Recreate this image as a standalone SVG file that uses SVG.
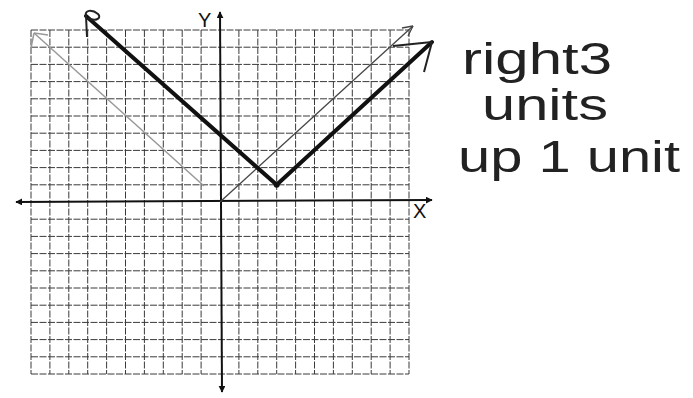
<svg xmlns="http://www.w3.org/2000/svg" width="693" height="398" viewBox="0 0 693 398">
<style>
.grid{stroke:#3a3a3a;stroke-width:1;fill:none;stroke-dasharray:7 1.5}
.axis{stroke:#111;stroke-width:2;fill:none}
.lbl{font-family:"Liberation Sans",Arial,sans-serif;font-size:20px;fill:#111}
.hand{font-family:"Liberation Sans",Arial,sans-serif;font-size:44px;fill:#222}
.bold{stroke:#111;stroke-width:4;fill:none;stroke-linecap:round}
.light{stroke:#444;stroke-width:1.3;fill:none}
.lightgray{stroke:#999;stroke-width:1.5;fill:none}
</style>
<defs>
<marker id="axarr" viewBox="0 0 10 10" refX="9" refY="5" markerWidth="7" markerHeight="7" orient="auto-start-reverse" markerUnits="userSpaceOnUse">
<path d="M0,0 L10,5 L0,10 z" fill="#111"/>
</marker>
</defs>
<rect width="693" height="398" fill="#fff"/>
<g id="grid">
<path class="grid" d="M31,30V374M49.9,30V374M68.8,30V374M87.7,30V374M106.6,30V374M125.5,30V374M144.4,30V374M163.3,30V374M182.2,30V374M201.1,30V374M238.9,30V374M257.8,30V374M276.7,30V374M295.6,30V374M314.5,30V374M333.4,30V374M352.3,30V374M371.2,30V374M390.1,30V374M409,30V374"/>
<path class="grid" d="M31,30H409M31,47.2H409M31,64.4H409M31,81.6H409M31,98.8H409M31,116H409M31,133.2H409M31,150.4H409M31,167.6H409M31,184.8H409M31,219.2H409M31,236.4H409M31,253.6H409M31,270.8H409M31,288H409M31,305.2H409M31,322.4H409M31,339.6H409M31,356.8H409M31,374H409"/>
</g>
<g id="axes">
<line class="axis" x1="16" y1="202" x2="432" y2="200" marker-start="url(#axarr)" marker-end="url(#axarr)"/>
<line class="axis" x1="220" y1="12" x2="222" y2="392" marker-start="url(#axarr)" marker-end="url(#axarr)"/>
<text class="lbl" x="198" y="27">Y</text>
<text class="lbl" x="413" y="218">X</text>
</g>
<g id="connectors">
<g id="parent-graph">
<path class="lightgray" d="M204,186 L34,33"/>
<path class="lightgray" d="M34,33 L48,35 M34,33 L31,48" stroke-width="2.5"/>
<path class="light" d="M220,202 L413,26"/>
<path class="light" d="M413,26 L402,28 M413,26 L408,36"/>
</g>
<g id="shifted-graph">
<path class="bold" d="M86,16 L276.7,184.8 L432,42"/>
<path d="M86,16 C84,10 92,9 98,14 C102,18 96,22 88,18 M86,16 L87,37" stroke="#222" stroke-width="2" fill="none"/>
<path d="M432,42 L393,46 M432,42 L424,72" stroke="#222" stroke-width="2" fill="none"/>
<circle cx="276.7" cy="184.8" r="3" fill="#111"/>
</g>
</g>
<g id="note">
<text class="hand" x="462" y="74" textLength="150" lengthAdjust="spacingAndGlyphs">right3</text>
<text class="hand" x="482" y="120" textLength="126" lengthAdjust="spacingAndGlyphs">units</text>
<text class="hand" x="458" y="172" textLength="222" lengthAdjust="spacingAndGlyphs">up 1 unit</text>
</g>
</svg>
